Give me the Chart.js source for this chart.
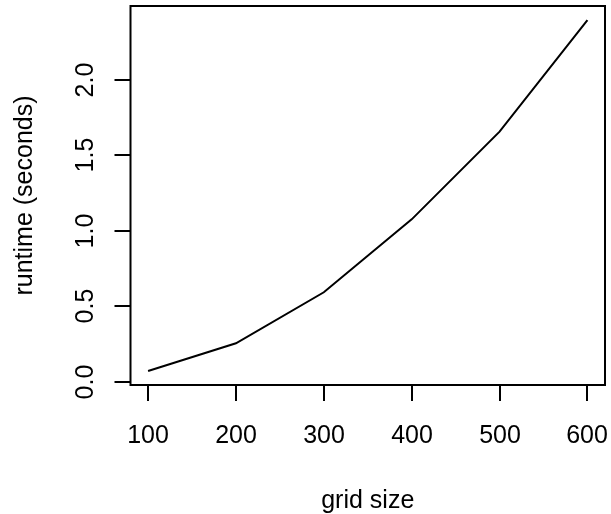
<!DOCTYPE html>
<html>
<head>
<meta charset="utf-8">
<script src="https://cdn.jsdelivr.net/npm/chart.js@4/dist/chart.umd.min.js"></script>
<style>
  html, body { margin: 0; padding: 0; background: #ffffff; }
  #wrap { width: 611px; height: 514px; }
</style>
</head>
<body>
<div id="wrap"><canvas id="c" width="611" height="514"></canvas></div>
<script>
const gridSizes = [100, 200, 300, 400, 500, 600];
const runtimes = [0.073, 0.256, 0.594, 1.077, 1.658, 2.397];
const xTickValues = [100, 200, 300, 400, 500, 600];
const yTickValues = [0, 0.5, 1, 1.5, 2];
const xTitle = "grid size";
const yTitle = "runtime (seconds)";

const FONT = '25px "Liberation Sans", Arial, sans-serif';

const rAxesPlugin = {
  id: 'rAxes',
  afterDraw(chart) {
    const ctx = chart.ctx;
    const a = chart.chartArea;
    const xs = chart.scales.x, ys = chart.scales.y;
    ctx.save();
    ctx.strokeStyle = '#000';
    ctx.fillStyle = '#000';
    ctx.lineWidth = 2;
    ctx.lineCap = 'butt';
    // box
    ctx.strokeRect(a.left, a.top, a.right - a.left, a.bottom - a.top);
    ctx.font = FONT;
    // x ticks
    ctx.textAlign = 'center';
    ctx.textBaseline = 'alphabetic';
    xTickValues.forEach(v => {
      const px = Math.round(xs.getPixelForValue(v));
      ctx.beginPath();
      ctx.moveTo(px, a.bottom);
      ctx.lineTo(px, a.bottom + 16);
      ctx.stroke();
      ctx.fillText(String(v), px, 443);
    });
    // y ticks
    yTickValues.forEach(v => {
      const py = Math.round(ys.getPixelForValue(v));
      ctx.beginPath();
      ctx.moveTo(a.left, py);
      ctx.lineTo(a.left - 16, py);
      ctx.stroke();
      ctx.save();
      ctx.translate(93, py);
      ctx.rotate(-Math.PI / 2);
      ctx.fillText(v.toFixed(1), 0, 0);
      ctx.restore();
    });
    // titles
    ctx.fillText(xTitle, (a.left + a.right) / 2, 508);
    ctx.save();
    ctx.translate(32, (a.top + a.bottom) / 2);
    ctx.rotate(-Math.PI / 2);
    ctx.fillText(yTitle, 0, 0);
    ctx.restore();
    ctx.restore();
  }
};

new Chart(document.getElementById('c'), {
  type: 'line',
  data: {
    datasets: [{
      data: gridSizes.map((g, i) => ({ x: g, y: runtimes[i] })),
      borderColor: '#000000',
      borderWidth: 2,
      pointRadius: 0,
      tension: 0,
      fill: false
    }]
  },
  options: {
    responsive: false,
    animation: false,
    devicePixelRatio: 1,
    layout: { padding: { left: 130.5, top: 6, right: 6, bottom: 129 } },
    plugins: { legend: { display: false }, tooltip: { enabled: false } },
    scales: {
      x: { type: 'linear', display: false, min: 80, max: 620 },
      y: { type: 'linear', display: false, min: -0.020, max: 2.490 }
    }
  },
  plugins: [rAxesPlugin]
});
</script>
</body>
</html>
